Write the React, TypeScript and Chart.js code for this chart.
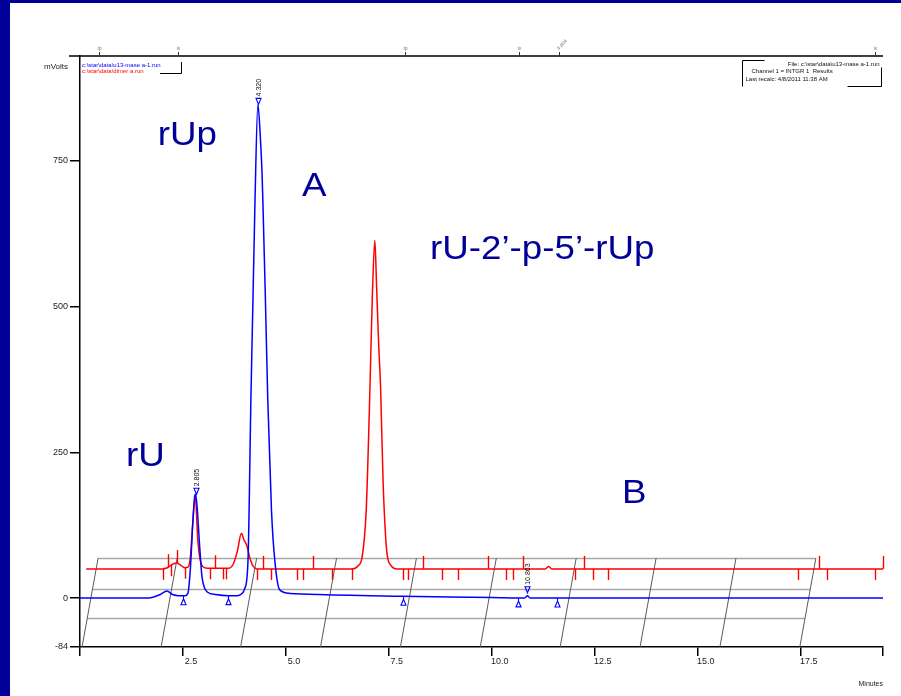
import React, { useEffect, useRef } from 'react';
import { Chart, registerables } from 'chart.js';

Chart.register(...registerables);

// ---------- data ----------
const blueTime = [0, 1.6, 1.75, 1.95, 2.11, 2.25, 2.4, 2.55, 2.62, 2.68, 2.74, 2.78, 2.805, 2.84, 2.9, 2.96, 3.02, 3.1, 3.3, 3.6, 3.8, 3.9, 4.0, 4.08, 4.15, 4.25, 4.32, 4.38, 4.42, 4.44, 4.5, 4.56, 4.65, 4.73, 4.85, 5.1, 5.8, 7.8, 10.0, 10.8, 10.863, 10.93, 12.0, 19.5];
const blueMv = [0, 0, 1, 6, 12, 6, 4, 4, 8, 50, 130, 172, 178, 160, 95, 38, 18, 10, 6, 4, 4, 6, 16, 65, 340, 683, 847, 790, 730, 683, 520, 340, 150, 65, 14, 8, 6, 3, 1, 0, 4, 0, 0, 0];

const redTime = [0.15, 2.0, 2.12, 2.25, 2.35, 2.45, 2.55, 2.62, 2.68, 2.74, 2.8, 2.86, 2.92, 2.98, 3.1, 3.6, 3.72, 3.82, 3.92, 3.98, 4.05, 4.12, 4.2, 4.3, 6.6, 6.75, 6.85, 6.95, 7.03, 7.1, 7.16, 7.2, 7.25, 7.3, 7.36, 7.45, 7.55, 7.7, 11.3, 11.38, 11.46, 19.5];
const redMv = [50, 50, 52, 58, 60, 56, 52, 53, 70, 130, 175, 100, 65, 54, 51, 51, 58, 80, 111, 100, 90, 70, 55, 50, 50, 55, 70, 150, 330, 520, 614, 540, 440, 360, 200, 80, 56, 50, 50, 54, 50, 50];

const xTickValues = [0, 2.5, 5, 7.5, 10, 12.5, 15, 17.5, 19.5];
const xTickLabels = ['', '2.5', '5.0', '7.5', '10.0', '12.5', '15.0', '17.5', ''];
const yTickValues = [-84, 0, 250, 500, 750];
const yTickLabels = ['-84', '0', '250', '500', '750'];

const redEventTimes = [2.01, 2.14, 2.21, 2.35, 2.55, 3.16, 3.28, 3.47, 3.54, 4.3, 4.44, 4.64, 5.27, 5.41, 5.66, 6.12, 6.6, 7.84, 7.96, 8.33, 8.79, 9.17, 9.9, 10.34, 10.51, 10.75, 12.01, 12.23, 12.45, 12.82, 17.43, 17.94, 18.13, 19.3, 19.49];
const redEventDirs = [-1, 1, -1, 1, -1, -1, 1, -1, -1, -1, 1, -1, -1, -1, 1, -1, -1, -1, -1, 1, -1, -1, 1, -1, -1, 1, -1, 1, -1, -1, -1, 1, -1, -1, 1];

const blueBaselineMarks = [2.5, 3.59, 7.84, 10.63, 11.58];
const bluePeakTimes = [2.805, 4.32, 10.863];
const bluePeakMv = [178, 847, 9];
const bluePeakLabels = ['2.805', '4.320', '10.863'];

const topEventTimes = [0.46, 2.38, 7.89, 10.66, 11.63, 19.3];
const topEventLabels = ['ip', 'iv', 'ip', 'iv', '4.804', 'iv'];

const gridFrontTimes = [0.05, 1.97, 3.9, 5.84, 7.78, 9.72, 11.66, 13.6, 15.54, 17.48];
const gridLevelsMv = [-84, -34, 15.4, 68.5];
const gridDepthMin = 0.39;

const annotationTexts = ['rUp', 'A', 'rU-2’-p-5’-rUp', 'rU', 'B'];
const annotationTimes = [1.89, 5.39, 8.5, 1.12, 13.16];
const annotationMv = [777, 690, 582, 226, 163];

const legendFiles = ['c:\\star\\data\\u13-mase a-1.run', 'c:\\star\\data\\dimer a.run'];
const infoLines = ['File: c:\\star\\data\\u13-mase a-1.run', 'Channel 1 = INTGR 1  Results', 'Last recalc: 4/8/2011 11:38 AM'];

const NAVY = '#000099';
const BLUE = '#0000ff';
const RED = '#ff0000';
const FONT = '"Liberation Sans", Arial, sans-serif';

function interp(xs: number[], ys: number[], t: number): number {
  if (t <= xs[0]) return ys[0];
  for (let i = 0; i < xs.length - 1; i++) {
    if (t >= xs[i] && t <= xs[i + 1]) {
      const f = (t - xs[i]) / (xs[i + 1] - xs[i]);
      return ys[i] + f * (ys[i + 1] - ys[i]);
    }
  }
  return ys[ys.length - 1];
}

const overlayPlugin = {
  id: 'overlay',
  beforeDraw(chart: any) {
    const { ctx, width, height } = chart;
    ctx.save();
    ctx.fillStyle = '#ffffff';
    ctx.fillRect(0, 0, width, height);
    ctx.fillStyle = NAVY;
    ctx.fillRect(0, 0, 10, height);
    ctx.fillRect(0, 0, width, 3);
    ctx.restore();
  },
  beforeDatasetsDraw(chart: any) {
    const { ctx } = chart;
    const xs = chart.scales.x;
    const ys = chart.scales.y;
    const lo = gridLevelsMv[0];
    const hi = gridLevelsMv[gridLevelsMv.length - 1];
    const skew = (v: number) => ((v - lo) / (hi - lo)) * gridDepthMin;
    ctx.save();
    ctx.strokeStyle = '#a8a8a8';
    ctx.lineWidth = 1.6;
    for (let i = 1; i < gridLevelsMv.length; i++) {
      const v = gridLevelsMv[i];
      const off = skew(v);
      const y = Math.round(ys.getPixelForValue(v)) + 0.5;
      ctx.beginPath();
      ctx.moveTo(xs.getPixelForValue(gridFrontTimes[0] + off), y);
      ctx.lineTo(xs.getPixelForValue(gridFrontTimes[gridFrontTimes.length - 1] + off), y);
      ctx.stroke();
    }
    ctx.strokeStyle = '#5a5a5a';
    ctx.lineWidth = 1;
    for (const t of gridFrontTimes) {
      ctx.beginPath();
      ctx.moveTo(xs.getPixelForValue(t), ys.getPixelForValue(lo));
      ctx.lineTo(xs.getPixelForValue(t + gridDepthMin), ys.getPixelForValue(hi));
      ctx.stroke();
    }
    ctx.restore();
  },
  afterDatasetsDraw(chart: any) {
    const { ctx, chartArea } = chart;
    const xs = chart.scales.x;
    const ys = chart.scales.y;
    ctx.save();

    // top border line
    ctx.strokeStyle = '#000';
    ctx.lineWidth = 1.5;
    ctx.beginPath();
    ctx.moveTo(chartArea.left - 11, chartArea.top);
    ctx.lineTo(chartArea.right, chartArea.top);
    ctx.stroke();

    // top event marks
    ctx.lineWidth = 1;
    ctx.strokeStyle = '#333';
    ctx.fillStyle = '#777';
    ctx.font = '5px ' + FONT;
    topEventTimes.forEach((t, i) => {
      const x = Math.round(xs.getPixelForValue(t)) + 0.5;
      ctx.beginPath();
      ctx.moveTo(x, chartArea.top);
      ctx.lineTo(x, chartArea.top - 4);
      ctx.stroke();
      ctx.save();
      ctx.translate(x, chartArea.top - 5);
      if (topEventLabels[i].length > 3) ctx.rotate(-Math.PI / 4);
      ctx.textAlign = topEventLabels[i].length > 3 ? 'left' : 'center';
      ctx.textBaseline = 'bottom';
      ctx.fillText(topEventLabels[i], 0, 0);
      ctx.restore();
    });

    // red event ticks
    ctx.strokeStyle = RED;
    ctx.lineWidth = 1.4;
    redEventTimes.forEach((t, i) => {
      const x = Math.round(xs.getPixelForValue(t)) + 0.5;
      const y0 = ys.getPixelForValue(interp(redTime, redMv, t));
      const y1 = redEventDirs[i] > 0 ? y0 - 13 : y0 + 11;
      ctx.beginPath();
      ctx.moveTo(x, y0);
      ctx.lineTo(x, y1);
      ctx.stroke();
    });

    // blue baseline markers (triangles)
    ctx.strokeStyle = BLUE;
    ctx.lineWidth = 1.1;
    blueBaselineMarks.forEach((t) => {
      const x = Math.round(xs.getPixelForValue(t)) + 0.5;
      const y0 = ys.getPixelForValue(interp(blueTime, blueMv, t));
      ctx.beginPath();
      ctx.moveTo(x, y0);
      ctx.lineTo(x, y0 + 3);
      ctx.moveTo(x, y0 + 3);
      ctx.lineTo(x - 2.5, y0 + 9);
      ctx.lineTo(x + 2.5, y0 + 9);
      ctx.closePath();
      ctx.stroke();
    });

    // blue peak markers + labels
    bluePeakTimes.forEach((t, i) => {
      const x = Math.round(xs.getPixelForValue(t)) + 0.5;
      const yp = ys.getPixelForValue(bluePeakMv[i]);
      ctx.strokeStyle = BLUE;
      ctx.beginPath();
      ctx.moveTo(x, yp);
      ctx.lineTo(x - 2.5, yp - 6);
      ctx.lineTo(x + 2.5, yp - 6);
      ctx.closePath();
      ctx.stroke();
      ctx.save();
      ctx.fillStyle = '#111';
      ctx.font = '7px ' + FONT;
      ctx.translate(x + 0.5, yp - 8);
      ctx.rotate(-Math.PI / 2);
      ctx.textAlign = 'left';
      ctx.textBaseline = 'middle';
      ctx.fillText(bluePeakLabels[i], 0, 0);
      ctx.restore();
    });

    // legend (file names) top-left
    ctx.font = '6px ' + FONT;
    ctx.textAlign = 'left';
    ctx.textBaseline = 'middle';
    ctx.fillStyle = BLUE;
    ctx.fillText(legendFiles[0], chartArea.left + 2, chartArea.top + 9);
    ctx.fillStyle = RED;
    ctx.fillText(legendFiles[1], chartArea.left + 2, chartArea.top + 15);
    ctx.strokeStyle = '#000';
    ctx.lineWidth = 1;
    ctx.beginPath();
    ctx.moveTo(chartArea.left + 80, chartArea.top + 17.5);
    ctx.lineTo(chartArea.left + 101.5, chartArea.top + 17.5);
    ctx.lineTo(chartArea.left + 101.5, chartArea.top + 6);
    ctx.stroke();

    // info box top-right
    const bx0 = chartArea.right - 140.5;
    const bx1 = chartArea.right - 1.5;
    const by0 = chartArea.top + 4.5;
    const by1 = chartArea.top + 30.5;
    ctx.beginPath();
    ctx.moveTo(bx0 + 22, by0);
    ctx.lineTo(bx0, by0);
    ctx.lineTo(bx0, by1);
    ctx.moveTo(bx1 - 34, by1);
    ctx.lineTo(bx1, by1);
    ctx.lineTo(bx1, by0 + 7);
    ctx.stroke();
    ctx.fillStyle = '#111';
    ctx.font = '6px ' + FONT;
    ctx.textAlign = 'right';
    ctx.fillText(infoLines[0], bx1 - 2, by0 + 4);
    ctx.textAlign = 'left';
    ctx.fillText(infoLines[1], bx0 + 9, by0 + 11);
    ctx.fillText(infoLines[2], bx0 + 3, by0 + 19);

    // y unit label
    ctx.fillStyle = '#222';
    ctx.font = '8px ' + FONT;
    ctx.textAlign = 'right';
    ctx.fillText('mVolts', chartArea.left - 12, chartArea.top + 11);

    // x title
    ctx.font = '7px ' + FONT;
    ctx.textAlign = 'right';
    ctx.fillText('Minutes', chartArea.right, chartArea.bottom + 37);

    // large annotations (slightly stretched horizontally as in the slide)
    ctx.fillStyle = NAVY;
    ctx.font = '34px ' + FONT;
    ctx.textAlign = 'left';
    ctx.textBaseline = 'alphabetic';
    annotationTexts.forEach((s, i) => {
      ctx.save();
      ctx.translate(xs.getPixelForValue(annotationTimes[i]), ys.getPixelForValue(annotationMv[i]));
      ctx.scale(1.08, 1);
      ctx.fillText(s, 0, 0);
      ctx.restore();
    });

    ctx.restore();
  },
};

export default function App() {
  const ref = useRef<HTMLCanvasElement | null>(null);

  useEffect(() => {
    if (!ref.current) return;
    const chart = new Chart(ref.current, {
      type: 'line',
      data: {
        datasets: [
          {
            label: 'u13-mase a-1',
            data: blueTime.map((t, i) => ({ x: t, y: blueMv[i] })),
            borderColor: BLUE,
            borderWidth: 1.5,
            pointRadius: 0,
            cubicInterpolationMode: 'monotone',
            fill: false,
          },
          {
            label: 'dimer a',
            data: redTime.map((t, i) => ({ x: t, y: redMv[i] })),
            borderColor: RED,
            borderWidth: 1.5,
            pointRadius: 0,
            cubicInterpolationMode: 'monotone',
            fill: false,
          },
        ],
      },
      options: {
        responsive: false,
        animation: false,
        events: [],
        layout: { padding: { left: 0, top: 56, right: 18, bottom: 9 } },
        plugins: { legend: { display: false }, tooltip: { enabled: false } },
        scales: {
          x: {
            type: 'linear',
            min: 0,
            max: 19.5,
            afterFit: (s: any) => { s.height = 40; },
            afterBuildTicks: (s: any) => { s.ticks = xTickValues.map((v) => ({ value: v })); },
            ticks: {
              autoSkip: false,
              maxRotation: 0,
              labelOffset: 8,
              padding: 0,
              color: '#222',
              font: { size: 9, family: FONT },
              callback: (_v: any, i: number) => xTickLabels[i],
            },
            grid: { drawOnChartArea: false, drawTicks: true, tickLength: 9, color: '#000', lineWidth: 1.5 },
            border: { display: true, color: '#000', width: 1.5 },
          },
          y: {
            type: 'linear',
            min: -84,
            max: 930,
            afterFit: (s: any) => { s.width = 80; },
            afterBuildTicks: (s: any) => { s.ticks = yTickValues.map((v) => ({ value: v })); },
            ticks: {
              autoSkip: false,
              padding: 2,
              color: '#222',
              font: { size: 9, family: FONT },
              callback: (_v: any, i: number) => yTickLabels[i],
            },
            grid: { drawOnChartArea: false, drawTicks: true, tickLength: 10, color: '#000', lineWidth: 1.5 },
            border: { display: true, color: '#000', width: 1.5 },
          },
        },
      },
      plugins: [overlayPlugin],
    } as any);
    return () => chart.destroy();
  }, []);

  return (
    <div style={{ position: 'fixed', left: 0, top: 0, width: 901, height: 696, background: '#fff' }}>
      <canvas ref={ref} width={901} height={696} style={{ display: 'block' }} />
    </div>
  );
}
